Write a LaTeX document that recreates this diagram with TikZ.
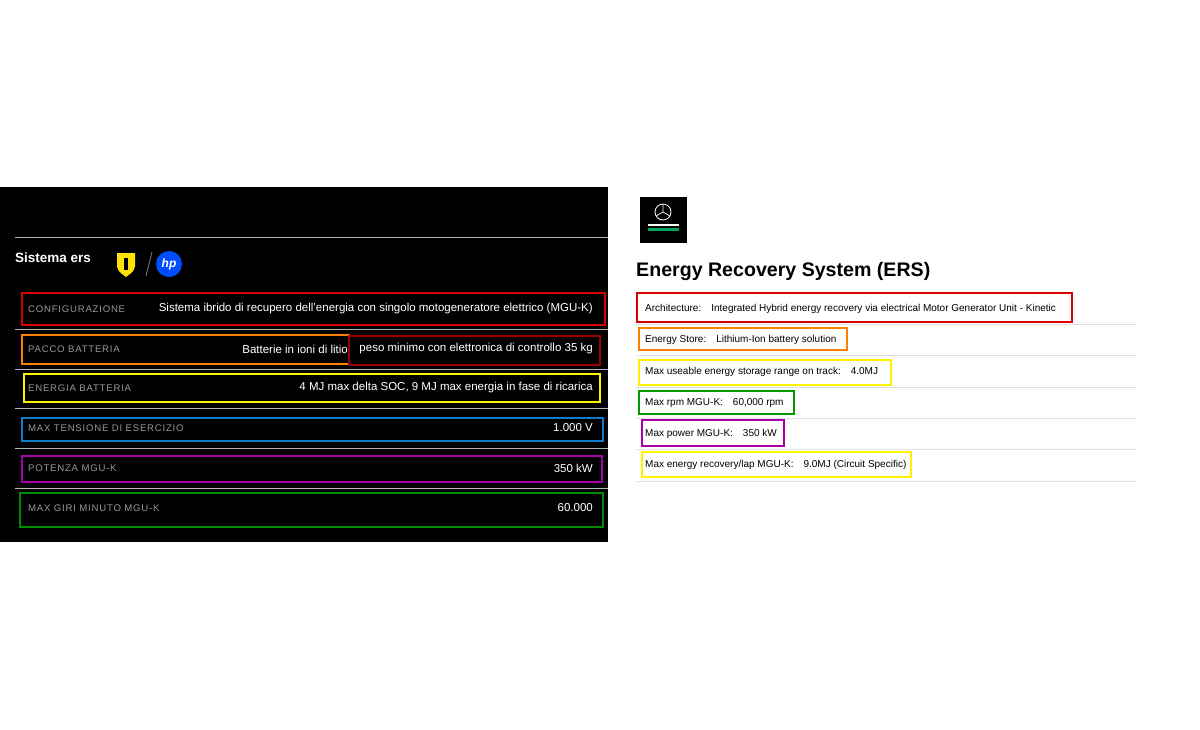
\documentclass[tikz,border=0pt]{standalone}
\usepackage{fontspec}
\setmainfont{Liberation Sans}
\newfontfamily\spaced[LetterSpace=8]{Liberation Sans}
\begin{document}
\begin{tikzpicture}[x=1pt,y=-1pt,
 box/.style={draw=#1,line width=2.2pt},
 lab/.style={anchor=west,inner sep=0pt,text=gray!80,font=\spaced\fontsize{9.6}{10}\selectfont},
 val/.style={anchor=east,inner sep=0pt,text=white,font=\fontsize{11.5}{12}\selectfont},
 mt/.style={anchor=west,inner sep=0pt,text=black,font=\fontsize{10}{11}\selectfont},
 sep/.style={draw=gray!60,line width=0.6pt},
 rsep/.style={draw=gray!25,line width=0.8pt}]
\useasboundingbox (0,0) rectangle (1200,729);
\fill[white] (0,0) rectangle (1200,729);
% left panel
\fill[black] (0,187) rectangle (608,542);
\draw[sep] (15,237) -- (608,237);
\foreach \y in {329,369,408,448,488} \draw[sep] (15,\y) -- (608,\y);
\node[anchor=west,inner sep=0pt,text=white,font=\bfseries\fontsize{13.5}{14}\selectfont] (t1) at (15,258) {Sistema ers};
\fill[yellow!85!orange] (117,253) -- (135,253) -- (135,266) .. controls (135,272) and (128,275) .. (126,277) .. controls (124,275) and (117,272) .. (117,266) -- cycle;
\fill[black] (124,258) rectangle (128,270);
\draw[gray,line width=0.8pt] (146,276) -- (152,252);
\fill[blue!70!cyan] (169,264) circle (13);
\node[text=white,font=\bfseries\itshape\fontsize{12}{12}\selectfont] (hp) at (169,264) {hp};
\draw[box=red!85!black] (22,293) rectangle (605,325);
\draw[box=orange] (22,335) rectangle (349,364);
\draw[box=red!60!black] (349,336) rectangle (600,365);
\draw[box=yellow] (24,374) rectangle (600,402);
\draw[box=cyan!60!blue] (22,418) rectangle (603,441);
\draw[box=violet!70!magenta] (22,456) rectangle (602,482);
\draw[box=green!55!black] (20,493) rectangle (603,527);
\node[lab] (l1) at (28,309) {CONFIGURAZIONE};
\node[val] (v1) at (593,309) {Sistema ibrido di recupero dell'energia con singolo motogeneratore elettrico (MGU-K)};
\node[lab] (l2) at (28,349) {PACCO BATTERIA};
\node[val] (v2a) at (348,349) {Batterie in ioni di litio};
\node[val] (v2b) at (593,349) {peso minimo con elettronica di controllo 35 kg};
\node[lab] (l3) at (28,388) {ENERGIA BATTERIA};
\node[val] (v3) at (593,388) {4 MJ max delta SOC, 9 MJ max energia in fase di ricarica};
\node[lab] (l4) at (28,428) {MAX TENSIONE DI ESERCIZIO};
\node[val] (v4) at (593,428) {1.000 V};
\node[lab] (l5) at (28,468) {POTENZA MGU-K};
\node[val] (v5) at (593,468) {350 kW};
\node[lab] (l6) at (28,508) {MAX GIRI MINUTO MGU-K};
\node[val] (v6) at (593,508) {60.000};
% right panel
\fill[black] (640,197) rectangle (687,243);
\draw[white,line width=0.8pt] (663,212) circle (8);
\draw[white,line width=0.7pt] (663,204) -- (663,212) -- (656,216) (663,212) -- (670,216);
\fill[teal!70!green] (648,228) rectangle (679,231);
\fill[white] (648,224) rectangle (679,226);
\node[anchor=west,inner sep=0pt,text=black,font=\bfseries\fontsize{19.6}{20}\selectfont] (t2) at (636,271) {Energy Recovery System (ERS)};
\foreach \y in {324,355,387,418,449,481} \draw[rsep] (636,\y) -- (1136,\y);
\draw[box=red!85!black] (637,293) rectangle (1072,322);
\draw[box=orange] (639,328) rectangle (847,350);
\draw[box=yellow] (639,360) rectangle (891,385);
\draw[box=green!60!black] (639,391) rectangle (794,414);
\draw[box=violet!70!magenta] (642,420) rectangle (784,446);
\draw[box=yellow] (642,452) rectangle (911,477);
\node[mt] (m1) at (645,309) {Architecture:\quad Integrated Hybrid energy recovery via electrical Motor Generator Unit - Kinetic};
\node[mt] (m2) at (645,340) {Energy Store:\quad Lithium-Ion battery solution};
\node[mt] (m3) at (645,372) {Max useable energy storage range on track:\quad 4.0MJ};
\node[mt] (m4) at (645,403) {Max rpm MGU-K:\quad 60,000 rpm};
\node[mt] (m5) at (645,434) {Max power MGU-K:\quad 350 kW};
\node[mt] (m6) at (645,465) {Max energy recovery/lap MGU-K:\quad 9.0MJ (Circuit Specific)};
\end{tikzpicture}
\end{document}
